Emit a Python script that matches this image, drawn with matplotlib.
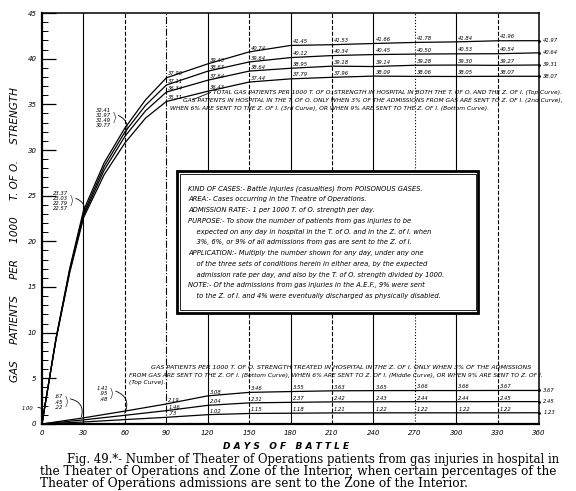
import matplotlib
matplotlib.use('Agg')
import matplotlib.pyplot as plt
from matplotlib.patches import Rectangle

# days (0-30 and the 45/75 points estimated from the drawn curves)
days = [0, 1, 10, 20, 30, 45, 60, 75, 90, 120, 150, 180, 210, 240, 270, 300, 330, 360]
total = [0, 1.00, 9.3, 17.0, 23.37, 28.6, 32.41, 35.5, 37.90, 39.43, 40.74, 41.45,
         41.53, 41.66, 41.78, 41.84, 41.96, 41.97]
tofo_3 = [0, 1.00, 9.25, 16.85, 23.03, 28.2, 31.97, 34.9, 37.11, 38.63, 39.64, 40.12,
          40.34, 40.45, 40.50, 40.53, 40.54, 40.64]
tofo_6 = [0, 1.00, 9.2, 16.7, 22.79, 27.8, 31.49, 34.3, 36.34, 37.64, 38.64, 38.95,
          39.18, 39.14, 39.28, 39.30, 39.27, 39.31]
tofo_9 = [0, 1.00, 9.15, 16.55, 22.57, 27.3, 30.77, 33.5, 35.31, 36.43, 37.44, 37.79,
          37.96, 38.09, 38.06, 38.05, 38.07, 38.07]

zi_days = [0, 30, 60, 90, 120, 150, 180, 210, 240, 270, 300, 330, 360]
zi_9 = [0, 0.67, 1.41, 2.19, 3.08, 3.46, 3.55, 3.63, 3.65, 3.66, 3.66, 3.67, 3.67]
zi_6 = [0, 0.45, 0.95, 1.46, 2.04, 2.31, 2.37, 2.42, 2.43, 2.44, 2.44, 2.45, 2.45]
zi_3 = [0, 0.22, 0.48, 0.73, 1.02, 1.15, 1.18, 1.21, 1.22, 1.22, 1.22, 1.22, 1.23]

grid_days = [30, 60, 90, 120, 150, 180, 210, 240, 270, 300, 330]
grid_styles = ['-', '--', '-.', '-', '--', '-', '--', '-', ':', '-', '--']

box_lines = [
    'KIND OF CASES:- Battle injuries (casualties) from POISONOUS GASES.',
    'AREA:- Cases occurring in the Theatre of Operations.',
    'ADMISSION RATE:- 1 per 1000 T. of O. strength per day.',
    'PURPOSE:- To show the number of patients from gas injuries to be',
    '    expected on any day in hospital in the T. of O. and in the Z. of I. when',
    '    3%, 6%, or 9% of all admissions from gas are sent to the Z. of I.',
    'APPLICATION:- Multiply the number shown for any day, under any one',
    '    of the three sets of conditions herein in either area, by the expected',
    '    admission rate per day, and also by the T. of O. strength divided by 1000.',
    'NOTE:- Of the admissions from gas injuries in the A.E.F., 9% were sent',
    '    to the Z. of I. and 4% were eventually discharged as physically disabled.',
]

top_note = [
    'TOTAL GAS PATIENTS PER 1000 T. OF O. STRENGTH IN HOSPITAL IN BOTH THE T. OF O. AND THE Z. OF I. (Top Curve).',
    'GAS PATIENTS IN HOSPITAL IN THE T. OF O. ONLY WHEN 3% OF THE ADMISSIONS FROM GAS ARE SENT TO Z. OF I. (2nd Curve),',
    'WHEN 6% ARE SENT TO THE Z. OF I. (3rd Curve), OR WHEN 9% ARE SENT TO THE Z. OF I. (Bottom Curve).',
]
bottom_note = [
    'GAS PATIENTS PER 1000 T. OF O. STRENGTH TREATED IN HOSPITAL IN THE Z. OF I. ONLY WHEN 3% OF THE ADMISSIONS',
    'FROM GAS ARE SENT TO THE Z. OF I. (Bottom Curve), WHEN 6% ARE SENT TO Z. OF I. (Middle Curve), OR WHEN 9% ARE SENT TO Z. OF I.',
    '(Top Curve).',
]
caption = [
    'Fig. 49.*- Number of Theater of Operations patients from gas injuries in hospital in',
    'the Theater of Operations and Zone of the Interior, when certain percentages of the',
    'Theater of Operations admissions are sent to the Zone of the Interior.',
]


def fmt(v):
    s = '%.2f' % v
    return s[1:] if v < 1 else s


fig = plt.figure(figsize=(5.76, 4.91), dpi=100)
ax = fig.add_axes([0.073, 0.1365, 0.863, 0.837])
ax.set_xlim(0, 360)
ax.set_ylim(0, 45)

for d, ls in zip(grid_days, grid_styles):
    ax.axvline(d, color='k', lw=0.8, ls=ls, zorder=1)

for ys in (total, tofo_3, tofo_6, tofo_9):
    ax.plot(days, ys, color='k', lw=0.9, zorder=2)
for ys in (zi_9, zi_6, zi_3):
    ax.plot(zi_days, ys, color='k', lw=0.9, zorder=2)

lab = dict(fontsize=3.8, style='italic', color='k')

# value labels along the curves
for ys in (total, tofo_3, tofo_6, tofo_9):
    for d, v in zip(days, ys):
        if d >= 90 and d % 30 == 0 and d < 360:
            ax.text(d + 1.5, v + 0.15, fmt(v), ha='left', va='bottom', **lab)
        elif d == 360:
            ax.plot(d, v, 'k.', ms=2, clip_on=False)
            ax.text(d + 3, v, fmt(v), ha='left', va='center', **lab)
for ys in (zi_9, zi_6, zi_3):
    for d, v in zip(zi_days, ys):
        if d >= 90 and d < 360:
            ax.text(d + 1.5, v + 0.12, fmt(v), ha='left', va='bottom', **lab)
        elif d == 360:
            ax.plot(d, v, 'k.', ms=2, clip_on=False)
            ax.text(d + 3, v, fmt(v), ha='left', va='center', **lab)


def group(day, xs, series, xy, tip, rad):
    idx = xs.index(day)
    txt = '\n'.join(fmt(s[idx]) for s in series)
    ax.text(xy[0], xy[1], txt, ha='right', va='center', linespacing=1.05,
            clip_on=False, **lab)
    ax.text(xy[0] + 0.5, xy[1], ')', ha='left', va='center', fontsize=9,
            fontweight='light', clip_on=False)
    ax.annotate('', xy=tip, xytext=(xy[0] + 3.5, xy[1] + 0.4),
                arrowprops=dict(arrowstyle='-', lw=0.6,
                                connectionstyle='arc3,rad=%s' % rad))


group(30, days, (total, tofo_3, tofo_6, tofo_9), (19, 24.4), (29, 22.6), -0.6)
group(60, days, (total, tofo_3, tofo_6, tofo_9), (50, 33.5), (59, 31.4), -0.6)
group(30, zi_days, (zi_9, zi_6, zi_3), (15, 2.4), (28, 0.5), -0.6)
group(60, zi_days, (zi_9, zi_6, zi_3), (48, 3.3), (59, 0.9), -0.6)
ax.text(-6, 1.7, '1.00', ha='right', va='center', clip_on=False, **lab)
ax.annotate('', xy=(1.5, 0.9), xytext=(-5, 1.8),
            arrowprops=dict(arrowstyle='-', lw=0.6, connectionstyle='arc3,rad=-0.6'),
            annotation_clip=False)

# curve notes
note = dict(fontsize=4.3, style='italic', color='k', clip_on=False)
ax.text(124, 36.3, top_note[0], ha='left', va='center', **note)
ax.text(102, 35.4, top_note[1], ha='left', va='center', **note)
ax.text(93, 34.5, top_note[2], ha='left', va='center', **note)
ax.plot([109, 122], [35.5, 36.3], color='k', lw=0.6)
ax.text(79, 6.2, bottom_note[0], ha='left', va='center', fontsize=4.55,
        style='italic', clip_on=False)
ax.text(63, 5.3, bottom_note[1], ha='left', va='center', **note)
ax.text(63, 4.5, bottom_note[2], ha='left', va='center', **note)

# info box
ax.add_patch(Rectangle((98, 12.2), 218, 15.5, facecolor='white', edgecolor='k',
                       lw=2.0, zorder=3))
ax.add_patch(Rectangle((100, 12.5), 214.5, 14.9, facecolor='none', edgecolor='k',
                       lw=0.6, zorder=3))
for i, line in enumerate(box_lines):
    ax.text(106, 25.8 - i * 1.18, line, ha='left', va='center', fontsize=4.9,
            style='italic', zorder=4)

ax.set_xticks(range(0, 361, 30))
ax.set_xticklabels([str(d) for d in range(0, 361, 30)], fontsize=5, style='italic')
ax.set_yticks(range(0, 46, 5))
ax.set_yticklabels([str(v) for v in range(0, 46, 5)], fontsize=5, style='italic')
ax.set_yticks(range(0, 46), minor=True)
ax.tick_params(axis='y', which='major', direction='in', length=10, width=0.9, pad=4)
ax.tick_params(axis='y', which='minor', direction='in', length=4, width=0.7)
ax.tick_params(axis='x', which='major', direction='in', length=0, pad=4)
for s in ax.spines.values():
    s.set_linewidth(1.1)
ax.spines['left'].set_linewidth(1.6)
ax.spines['bottom'].set_linewidth(1.6)

ax.set_xlabel('D A Y S   O F   B A T T L E', fontsize=6.5, style='italic',
              fontweight='bold')
ax.xaxis.set_label_coords(0.49, -0.045)
ax.set_ylabel('GAS     PATIENTS     PER     1000     T. OF O.     STRENGTH',
              fontsize=7.5, style='italic')
ax.yaxis.set_label_coords(-0.045, 0.46)

# caption lines, sized so they run to the same right edge as the print
fig.text(67 / 576, 1 - 460 / 491, caption[0], fontsize=8.35, family='DejaVu Serif',
         ha='left', va='center')
fig.text(40 / 576, 1 - 472 / 491, caption[1], fontsize=8.7, family='DejaVu Serif',
         ha='left', va='center')
fig.text(40 / 576, 1 - 484 / 491, caption[2], fontsize=8.7, family='DejaVu Serif',
         ha='left', va='center')

plt.savefig('out.png', dpi=100)
